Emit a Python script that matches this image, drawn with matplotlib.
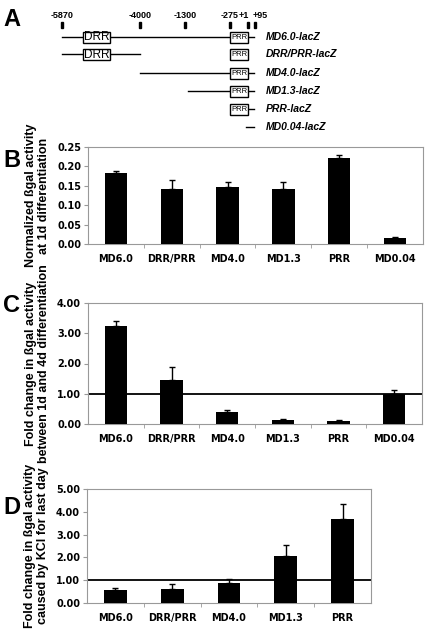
import matplotlib
matplotlib.use("Agg")
import matplotlib.pyplot as plt
from matplotlib.patches import Rectangle

W, H = 434, 633
fig = plt.figure(figsize=(W / 100, H / 100), dpi=100)
plt.rcParams['font.family'] = ['DejaVu Sans']
ARIAL = ['Liberation Sans', 'DejaVu Sans']

# ---------------- data ----------------
constructs = ["MD6.0-lacZ", "DRR/PRR-lacZ", "MD4.0-lacZ", "MD1.3-lacZ", "PRR-lacZ", "MD0.04-lacZ"]
pos_labels = ["-5870", "-4000", "-1300", "-275", "+1", "+95"]
# schematic x positions (diagram units) of the labelled sites
pos_x = [62, 140, 185, 230, 248, 255]

cats_bc = ["MD6.0", "DRR/PRR", "MD4.0", "MD1.3", "PRR", "MD0.04"]
b_vals = [0.183, 0.142, 0.147, 0.142, 0.222, 0.016]
b_err = [0.006, 0.022, 0.012, 0.019, 0.007, 0.002]

c_vals = [3.25, 1.45, 0.40, 0.12, 0.10, 1.00]
c_err = [0.15, 0.42, 0.07, 0.03, 0.02, 0.12]

cats_d = ["MD6.0", "DRR/PRR", "MD4.0", "MD1.3", "PRR"]
d_vals = [0.58, 0.60, 0.87, 2.05, 3.67]
d_err = [0.07, 0.22, 0.20, 0.50, 0.67]


def ax_px(left, top, right, bottom):
    return fig.add_axes([left / W, 1 - bottom / H, (right - left) / W, (bottom - top) / H])


def letter(txt, y):
    fig.text(3 / W, 1 - y / H, txt, fontsize=17, fontweight="bold", va="center", ha="left", family=ARIAL)


# ---------------- panel A ----------------
axA = ax_px(0, 0, W, 140)
axA.set_xlim(0, W)
axA.set_ylim(140, 0)
axA.axis("off")
letter("A", 19)

label_shift = [0, 0, 0, 0, -4, 5]
for lab, x, dx in zip(pos_labels, pos_x, label_shift):
    axA.text(x + dx, 16, lab, ha="center", va="center", fontsize=6.5, fontweight="bold", family=ARIAL)
    axA.add_patch(Rectangle((x - 1.2, 22), 2.4, 6, color="black"))

row_y = [37, 54, 73, 91, 109, 127]
drr = (83, 110)
prr = (230, 248)
line_end = 254
starts = [62, 62, 140, 188, None, 246]
has_drr = [True, True, False, False, False, False]
has_prr = [True, True, True, True, True, False]
tails = [True, False, True, True, True, True]

for i, y in enumerate(row_y):
    s = starts[i]
    if i == 1:
        axA.plot([62, 140], [y, y], color="black", lw=1)
    elif s is not None and has_prr[i]:
        axA.plot([s, prr[0]], [y, y], color="black", lw=1)
    if tails[i]:
        x0 = prr[1] if has_prr[i] else s
        axA.plot([x0, line_end], [y, y], color="black", lw=1)
    if has_drr[i]:
        axA.add_patch(Rectangle((drr[0], y - 5.5), drr[1] - drr[0], 11, fc="white", ec="black", lw=1, zorder=3))
        axA.text((drr[0] + drr[1]) / 2, y + 0.5, "DRR", ha="center", va="center", fontsize=8.5, zorder=4, family=ARIAL)
    if has_prr[i]:
        axA.add_patch(Rectangle((prr[0], y - 5.5), prr[1] - prr[0], 11, fc="white", ec="black", lw=1, zorder=3))
        axA.text((prr[0] + prr[1]) / 2, y + 0.5, "PRR", ha="center", va="center", fontsize=5.5, zorder=4, family=ARIAL)
    axA.text(266, y, constructs[i], ha="left", va="center", fontsize=7.5, fontweight="bold", style="italic",
             family=ARIAL)


def bar_panel(rect, cats, vals, errs, ylim, yticks, fmt, ylabel, let, letter_y, refline=False):
    ax = ax_px(*rect)
    x = list(range(len(cats)))
    ax.bar(x, vals, width=0.4, color="black", zorder=3)
    ax.errorbar(x, vals, yerr=[[0] * len(vals), errs], fmt="none", ecolor="black",
                elinewidth=1, capsize=2.5, capthick=1, zorder=4)
    if refline:
        ax.axhline(1.0, color="black", lw=1.3, zorder=2)
    ax.set_xlim(-0.5, len(cats) - 0.5)
    ax.set_ylim(*ylim)
    ax.set_yticks(yticks)
    ax.set_yticklabels([fmt.format(v) for v in yticks], fontsize=7, fontweight="bold")
    ax.set_xticks(x)
    ax.set_xticklabels(cats, fontsize=7, fontweight="bold")
    ax.tick_params(axis="x", length=0, pad=7)
    ax.set_xticks([i + 0.5 for i in range(len(cats) - 1)], minor=True)
    ax.tick_params(axis="x", which="minor", length=3, color="#999999", direction="out")
    ax.tick_params(axis="y", length=3, color="#999999", pad=2)
    for sp in ax.spines.values():
        sp.set_color("#999999")
        sp.set_linewidth(0.8)
    ax.set_ylabel(ylabel, fontsize=9, fontweight="bold", labelpad=5, linespacing=1.15, family=ARIAL)
    letter(let, letter_y)
    return ax


bar_panel((88, 147, 423, 244), cats_bc, b_vals, b_err, (0, 0.25),
          [0, 0.05, 0.10, 0.15, 0.20, 0.25], "{:.2f}",
          "Normalized \u00dfgal activity\nat 1d differentiation", "B", 161)
bar_panel((88, 303, 422, 424), cats_bc, c_vals, c_err, (0, 4),
          [0, 1, 2, 3, 4], "{:.2f}",
          "Fold change in \u00dfgal activity\nbetween 1d and 4d differentiation", "C", 306, refline=True)
bar_panel((87, 489, 371, 603), cats_d, d_vals, d_err, (0, 5),
          [0, 1, 2, 3, 4, 5], "{:.2f}",
          "Fold change in \u00dfgal activity\ncaused by KCl for last day", "D", 508, refline=True)

fig.savefig("out.png", dpi=100, facecolor="white")
